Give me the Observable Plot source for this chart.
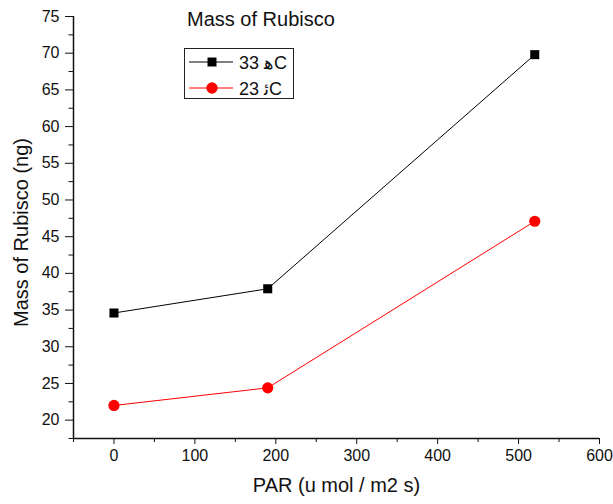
<!DOCTYPE html>
<html>
<head>
<meta charset="utf-8">
<script src="https://cdn.jsdelivr.net/npm/d3@7"></script>
<script src="https://cdn.jsdelivr.net/npm/@observablehq/plot@0.6"></script>
<style>
  html, body { margin: 0; padding: 0; background: #fff; }
  #wrap { position: relative; width: 613px; height: 504px; font-family: "Liberation Sans", Arial, sans-serif; }
  #title { position: absolute; left: 187px; top: 8px; font-size: 20px; color: #111; white-space: nowrap; }
  #legend { position: absolute; left: 184px; top: 48px; width: 108px; height: 49px; border: 1px solid #222; background: #fff; }
  #chart svg g[aria-label$="tick label"] text, #chart svg g[aria-label$="tick label"] { font-size: 16px !important; fill: #111; }
</style>
</head>
<body>
<div id="wrap">
  <div id="chart"></div>
  <div id="title">Mass of Rubisco</div>
  <div id="legend"></div>
</div>
<script>
const parValues = [0, 190, 520];
const mass33 = [34.6, 37.9, 69.8];
const mass23 = [22.0, 24.4, 47.1];
const seriesNames = ["33 \uFEEBC", "23 \uFE8BC"];
const seriesColors = ["#000000", "#ff0000"];
const seriesSymbols = ["square", "circle"];
const xTicks = [0, 100, 200, 300, 400, 500, 600];
const xMinorTicks = [-50, 50, 150, 250, 350, 450, 550];
const yTicks = [20, 25, 30, 35, 40, 45, 50, 55, 60, 65, 70, 75];
const yMinorTicks = [17.5, 22.5, 27.5, 32.5, 37.5, 42.5, 47.5, 52.5, 57.5, 62.5, 67.5, 72.5];
const xLabel = "PAR (u mol / m2 s)";
const yLabel = "Mass of Rubisco (ng)";

const data33 = parValues.map((x, i) => ({x, y: mass33[i]}));
const data23 = parValues.map((x, i) => ({x, y: mass23[i]}));

const chart = Plot.plot({
  width: 613,
  height: 504,
  marginLeft: 73,
  marginRight: 14,
  marginTop: 16,
  marginBottom: 66,
  style: {fontFamily: "'Liberation Sans', Arial, sans-serif", fontSize: "16px", color: "#111", background: "#fff"},
  x: {domain: [-50, 600]},
  y: {domain: [17.5, 75]},
  marks: [
    Plot.axisY({ticks: yTicks, tickSize: 8, tickPadding: 6, fontSize: 16, label: null, stroke: "#111"}),
    Plot.axisY({ticks: yMinorTicks, tickSize: 4.5, text: null, label: null, stroke: "#111"}),
    Plot.axisX({ticks: xTicks, tickSize: 6, tickPadding: 5, fontSize: 16, label: null, stroke: "#111"}),
    Plot.axisX({ticks: xMinorTicks, tickSize: 4, text: null, label: null, stroke: "#111"}),
    Plot.ruleX([-50], {stroke: "#111", strokeWidth: 1.5}),
    Plot.ruleY([17.5], {stroke: "#111", strokeWidth: 1.5}),
    Plot.line(data33, {x: "x", y: "y", stroke: seriesColors[0], strokeWidth: 1}),
    Plot.line(data23, {x: "x", y: "y", stroke: seriesColors[1], strokeWidth: 1}),
    Plot.dot(data33, {x: "x", y: "y", symbol: seriesSymbols[0], r: 5.1, fill: seriesColors[0], stroke: "none"}),
    Plot.dot(data23, {x: "x", y: "y", symbol: seriesSymbols[1], r: 5.6, fill: seriesColors[1], stroke: "none"}),
    Plot.text([xLabel], {frameAnchor: "bottom", dy: 53, fontSize: 20, fill: "#111"}),
    Plot.text([yLabel], {frameAnchor: "left", textAnchor: "middle", rotate: -90, dx: -52, dy: 5, fontSize: 20, fill: "#111"})
  ]
});
document.getElementById("chart").appendChild(chart);

// Legend
const lg = d3.select("#legend").append("svg").attr("width", 108).attr("height", 49);
seriesNames.forEach((name, i) => {
  const cy = 13 + i * 26;
  const g = lg.append("g");
  g.append("line").attr("x1", 4).attr("x2", 48).attr("y1", cy).attr("y2", cy)
    .attr("stroke", seriesColors[i]).attr("stroke-width", 1);
  const sym = seriesSymbols[i] === "square" ? d3.symbolSquare : d3.symbolCircle;
  const size = seriesSymbols[i] === "square" ? 81 : 100;
  g.append("path").attr("d", d3.symbol(sym, size)()).attr("transform", `translate(27,${cy})`)
    .attr("fill", seriesColors[i]);
  g.append("text").attr("x", 54).attr("y", cy + 6.5).attr("font-size", 18)
    .attr("font-family", "'Liberation Sans', Arial, sans-serif").attr("fill", "#111")
    .style("direction", "ltr").style("unicode-bidi", "bidi-override").text(name);
});
</script>
</body>
</html>
